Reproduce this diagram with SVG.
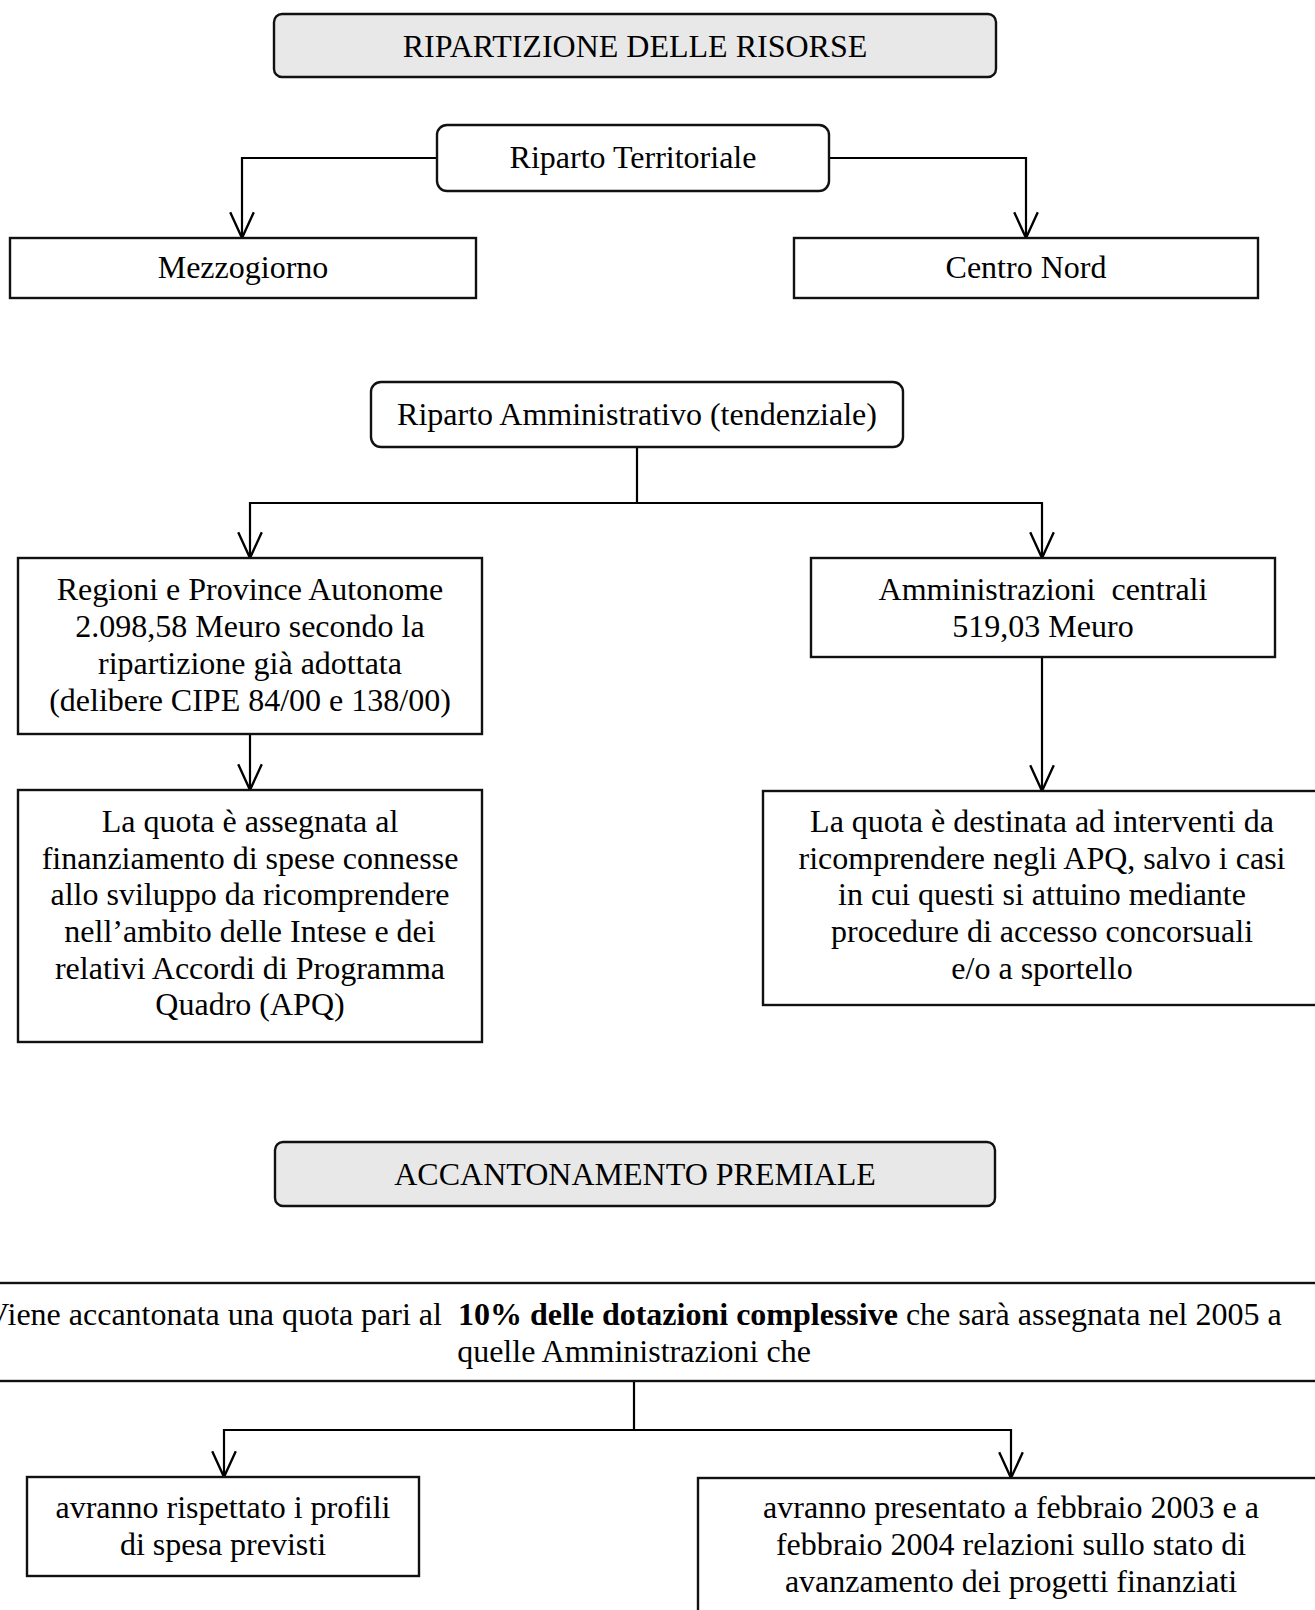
<svg xmlns="http://www.w3.org/2000/svg" width="1315" height="1610" viewBox="0 0 1315 1610">
<style>
  .box { fill: #ffffff; stroke: #111111; stroke-width: 2.4; }
  .title { fill: #e8e8e8; stroke: #111111; stroke-width: 2.4; }
  .t { font-family: "Liberation Serif", "Times New Roman", serif; font-size: 32px; fill: #000000; text-anchor: middle; }
  .b { font-weight: bold; }
  .conn { fill: none; stroke: #000000; stroke-width: 2.2; }
</style>
<defs>
  <marker id="arrow" markerUnits="userSpaceOnUse" markerWidth="30" markerHeight="30" viewBox="-26 -13 28 26" refX="0" refY="0" orient="auto">
    <path d="M-24,-11 L0,0 L-24,11" fill="none" stroke="#000000" stroke-width="2.2"/>
  </marker>
</defs>
<rect width="1315" height="1610" fill="#ffffff"/>

<g id="connectors">
  <path class="conn" d="M437,158 H242 V238" marker-end="url(#arrow)"/>
  <path class="conn" d="M829,158 H1026 V238" marker-end="url(#arrow)"/>
  <path class="conn" d="M637,447 V503 H250 V558" marker-end="url(#arrow)"/>
  <path class="conn" d="M637,503 H1042 V558" marker-end="url(#arrow)"/>
  <path class="conn" d="M250,734 V790" marker-end="url(#arrow)"/>
  <path class="conn" d="M1042,657 V791" marker-end="url(#arrow)"/>
  <path class="conn" d="M634,1382 V1430 H224 V1477" marker-end="url(#arrow)"/>
  <path class="conn" d="M634,1430 H1011 V1478" marker-end="url(#arrow)"/>
</g>

<g id="node-ripartizione">
  <rect class="title" x="274" y="14" width="722" height="63" rx="8"/>
  <text class="t" x="635" y="57">RIPARTIZIONE DELLE RISORSE</text>
</g>

<g id="node-riparto-territoriale">
  <rect class="box" x="437" y="125" width="392" height="66" rx="10"/>
  <text class="t" x="633" y="168">Riparto Territoriale</text>
</g>

<g id="node-mezzogiorno">
  <rect class="box" x="10" y="238" width="466" height="60"/>
  <text class="t" x="243" y="278">Mezzogiorno</text>
</g>

<g id="node-centro-nord">
  <rect class="box" x="794" y="238" width="464" height="60"/>
  <text class="t" x="1026" y="278">Centro Nord</text>
</g>

<g id="node-riparto-amministrativo">
  <rect class="box" x="371" y="382" width="532" height="65" rx="10"/>
  <text class="t" x="637" y="425">Riparto Amministrativo (tendenziale)</text>
</g>

<g id="node-regioni">
  <rect class="box" x="18" y="558" width="464" height="176"/>
  <text class="t" x="250" y="600">Regioni e Province Autonome</text>
  <text class="t" x="250" y="637">2.098,58 Meuro secondo la</text>
  <text class="t" x="250" y="674">ripartizione già adottata</text>
  <text class="t" x="250" y="711">(delibere CIPE 84/00 e 138/00)</text>
</g>

<g id="node-amministrazioni">
  <rect class="box" x="811" y="558" width="464" height="99"/>
  <text class="t" x="1043" y="600" xml:space="preserve">Amministrazioni  centrali</text>
  <text class="t" x="1043" y="637">519,03 Meuro</text>
</g>

<g id="node-quota-regioni">
  <rect class="box" x="18" y="790" width="464" height="252"/>
  <text class="t" x="250" y="832">La quota è assegnata al</text>
  <text class="t" x="250" y="869">finanziamento di spese connesse</text>
  <text class="t" x="250" y="905">allo sviluppo da ricomprendere</text>
  <text class="t" x="250" y="942">nell’ambito delle Intese e dei</text>
  <text class="t" x="250" y="979">relativi Accordi di Programma</text>
  <text class="t" x="250" y="1015">Quadro (APQ)</text>
</g>

<g id="node-quota-amministrazioni">
  <rect class="box" x="763" y="791" width="562" height="214"/>
  <text class="t" x="1042" y="832">La quota è destinata ad interventi da</text>
  <text class="t" x="1042" y="869">ricomprendere negli APQ, salvo i casi</text>
  <text class="t" x="1042" y="905">in cui questi si attuino mediante</text>
  <text class="t" x="1042" y="942">procedure di accesso concorsuali</text>
  <text class="t" x="1042" y="979">e/o a sportello</text>
</g>

<g id="node-accantonamento">
  <rect class="title" x="275" y="1142" width="720" height="64" rx="8"/>
  <text class="t" x="635" y="1185">ACCANTONAMENTO PREMIALE</text>
</g>

<g id="node-viene">
  <rect class="box" x="-10" y="1283" width="1335" height="98"/>
  <text class="t" x="634" y="1325" xml:space="preserve">Viene accantonata una quota pari al  <tspan class="b">10% delle dotazioni complessive</tspan> che sarà assegnata nel 2005 a</text>
  <text class="t" x="634" y="1362">quelle Amministrazioni che</text>
</g>

<g id="node-profili">
  <rect class="box" x="27" y="1477" width="392" height="99"/>
  <text class="t" x="223" y="1518">avranno rispettato i profili</text>
  <text class="t" x="223" y="1555">di spesa previsti</text>
</g>

<g id="node-relazioni">
  <rect class="box" x="698" y="1478" width="627" height="150"/>
  <text class="t" x="1011" y="1518">avranno presentato a febbraio 2003 e a</text>
  <text class="t" x="1011" y="1555">febbraio 2004 relazioni sullo stato di</text>
  <text class="t" x="1011" y="1592">avanzamento dei progetti finanziati</text>
</g>
</svg>
